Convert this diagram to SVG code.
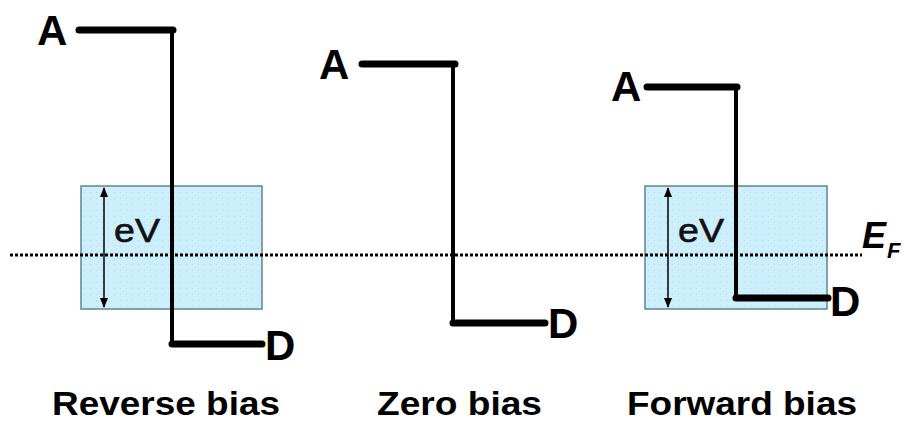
<svg xmlns="http://www.w3.org/2000/svg" width="910" height="423" viewBox="0 0 910 423">
<style>
.lbl{font-family:"Liberation Sans",Arial,sans-serif;font-weight:bold;fill:#000}
.big{font-size:42px}
.cap{font-size:33px}
.ev{font-family:"Liberation Sans",Arial,sans-serif;font-size:33px;fill:#111;stroke:#111;stroke-width:0.6}
.lvl{stroke:#000;stroke-width:7;stroke-linecap:round;fill:none}
.vert{stroke:#000;stroke-width:4;fill:none}
.box{fill:url(#grid);stroke:#5b8790;stroke-width:1.5}
.arr{stroke:#000;stroke-width:1.5;marker-start:url(#ah);marker-end:url(#ah)}
</style>
<defs>
<pattern id="grid" width="6" height="6" patternUnits="userSpaceOnUse">
<rect width="6" height="6" fill="#cdeefb"/>
<rect x="0" y="0" width="1" height="1" fill="#b4dcec"/>
</pattern>
<marker id="ah" viewBox="0 0 10 10" refX="9" refY="5" markerWidth="12" markerHeight="10" orient="auto-start-reverse" markerUnits="userSpaceOnUse">
<path d="M0,1 L10,5 L0,9 z" fill="#000"/>
</marker>
</defs>
<rect width="910" height="423" fill="#fff"/>
<g id="box-reverse"><rect class="box" x="81" y="186" width="181" height="123"/><line class="arr" x1="104" y1="188" x2="104" y2="307"/><text class="ev" x="114" y="242" textLength="46" lengthAdjust="spacingAndGlyphs">eV</text></g>
<g id="box-forward"><rect class="box" x="645" y="186" width="182" height="123"/><line class="arr" x1="668" y1="188" x2="668" y2="307"/><text class="ev" x="678" y="242" textLength="46" lengthAdjust="spacingAndGlyphs">eV</text></g>
<g id="fermi"><line x1="10" y1="255" x2="862" y2="255" stroke="#000" stroke-width="3" stroke-dasharray="3 2"/><text class="lbl" x="862" y="248" font-size="36" font-style="italic">E</text><text class="lbl" x="887" y="258" font-size="22" font-style="italic">F</text></g>
<g id="connectors">
<path class="vert" d="M172,30 V344"/>
<path class="lvl" d="M79,30 H173"/>
<path class="lvl" d="M172,344 H262"/>
<path class="vert" d="M453,64 V323"/>
<path class="lvl" d="M362,64 H455"/>
<path class="lvl" d="M453,323 H545"/>
<path class="vert" d="M736,87 V298"/>
<path class="lvl" d="M647,87 H737"/>
<path class="lvl" d="M736,298 H828"/>
</g>
<g id="reverse-labels"><text class="lbl big" x="37" y="45">A</text><text class="lbl big" x="265" y="360">D</text><text class="lbl cap" x="52" y="415" textLength="228" lengthAdjust="spacingAndGlyphs">Reverse bias</text></g>
<g id="zero-labels"><text class="lbl big" x="319" y="79">A</text><text class="lbl big" x="548" y="338">D</text><text class="lbl cap" x="377" y="415" textLength="165" lengthAdjust="spacingAndGlyphs">Zero bias</text></g>
<g id="forward-labels"><text class="lbl big" x="611" y="101">A</text><text class="lbl big" x="830" y="316">D</text><text class="lbl cap" x="627" y="415" textLength="230" lengthAdjust="spacingAndGlyphs">Forward bias</text></g>
</svg>
